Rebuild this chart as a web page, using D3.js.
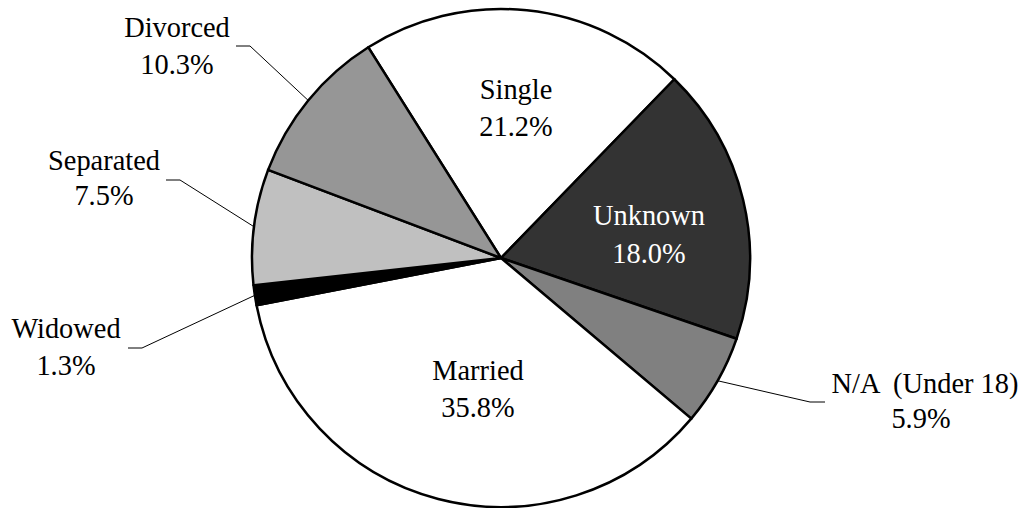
<!DOCTYPE html>
<html>
<head>
<meta charset="utf-8">
<script src="https://cdn.jsdelivr.net/npm/d3@7"></script>
<style>
  body { margin: 0; background: #fff; }
  text { font-family: "Liberation Serif", "Times New Roman", serif; font-size: 28.4px; white-space: pre; }
</style>
</head>
<body>
<div id="pie"></div>
<script>
// data, clockwise from the Single slice
var categories = ["Single", "Unknown", "N/A  (Under 18)", "Married", "Widowed", "Separated", "Divorced"];
var values = [21.2, 18.0, 5.9, 35.8, 1.3, 7.5, 10.3];
var fills = ["#ffffff", "#333333", "#808080", "#ffffff", "#000000", "#c0c0c0", "#969696"];
var textColors = ["#000", "#fff", "#000", "#000", "#000", "#000", "#000"];

var width = 1027, height = 508,
    cx = 501, cy = 258, radius = 249;

// label layout: x and first baseline, and elbow of leader line for outside labels
var labelPos = [[516, 99], [649, 225], [925, 393], [478, 380], [66, 338], [104, 170], [177, 37]];
var lineGap = [37, 38, 35, 37, 37, 35, 37];
var elbows = [null, null, [[810, 402], [825, 402]], null, [[142, 348], [128, 348]], [[180, 180], [166, 180]], [[250, 46], [236, 46]]];

var svg = d3.select("#pie")
  .append("svg")
    .attr("width", width)
    .attr("height", height);

var g = svg.append("g")
    .attr("transform", "translate(" + cx + "," + cy + ")");

var startAngle = -32.2 * Math.PI / 180;

var pie = d3.pie()
  .sort(null)
  .value(d => d)
  .startAngle(startAngle)
  .endAngle(startAngle + 2 * Math.PI);

var arcs = pie(values);

var arc = d3.arc()
  .innerRadius(0)
  .outerRadius(radius);

g.selectAll("path.slice")
  .data(arcs)
  .enter()
  .append("path")
    .attr("class", "slice")
    .attr("d", arc)
    .attr("fill", (d, i) => fills[i])
    .attr("stroke", "#000")
    .attr("stroke-width", 2.5)
    .attr("stroke-linejoin", "round");

// leader lines for outside labels
arcs.forEach(function(d, i) {
  if (!elbows[i]) return;
  var a = (d.startAngle + d.endAngle) / 2;
  var p0 = [cx + radius * Math.sin(a), cy - radius * Math.cos(a)];
  var pts = [p0].concat(elbows[i]);
  svg.append("path")
    .attr("d", d3.line()(pts))
    .attr("fill", "none")
    .attr("stroke", "#000")
    .attr("stroke-width", 1);
});

// labels
categories.forEach(function(c, i) {
  var t = svg.append("text")
    .attr("text-anchor", "middle")
    .attr("fill", textColors[i]);
  t.append("tspan")
    .attr("x", labelPos[i][0])
    .attr("y", labelPos[i][1])
    .text(c);
  t.append("tspan")
    .attr("x", labelPos[i][0] - (i == 2 ? 4 : 0))
    .attr("y", labelPos[i][1] + lineGap[i])
    .text(values[i].toFixed(1) + "%");
});
</script>
</body>
</html>
